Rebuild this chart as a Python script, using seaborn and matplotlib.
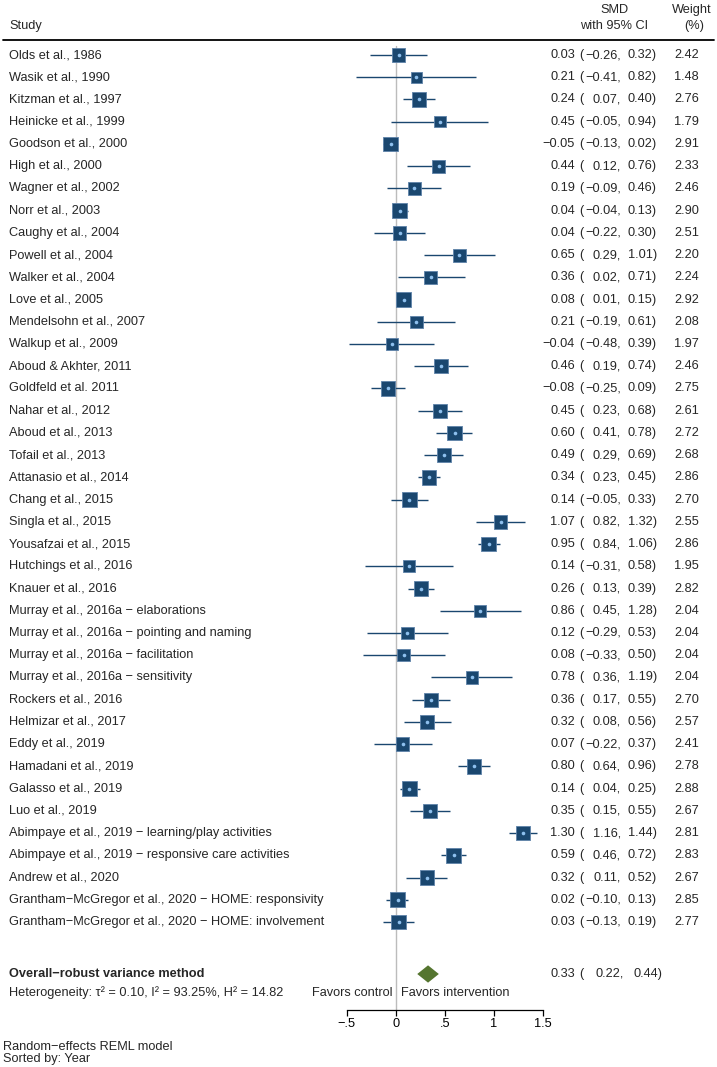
import numpy as np
import pandas as pd
import matplotlib
matplotlib.use("Agg")
import matplotlib.pyplot as plt
import matplotlib.transforms as mtransforms
from matplotlib.lines import Line2D
import seaborn as sns

# ---- data ----
studies = [
    "Olds et al., 1986", "Wasik et al., 1990", "Kitzman et al., 1997",
    "Heinicke et al., 1999", "Goodson et al., 2000", "High et al., 2000",
    "Wagner et al., 2002", "Norr et al., 2003", "Caughy et al., 2004",
    "Powell et al., 2004", "Walker et al., 2004", "Love et al., 2005",
    "Mendelsohn et al., 2007", "Walkup et al., 2009", "Aboud & Akhter, 2011",
    "Goldfeld et al. 2011", "Nahar et al., 2012", "Aboud et al., 2013",
    "Tofail et al., 2013", "Attanasio et al., 2014", "Chang et al., 2015",
    "Singla et al., 2015", "Yousafzai et al., 2015", "Hutchings et al., 2016",
    "Knauer et al., 2016", "Murray et al., 2016a \u2212 elaborations",
    "Murray et al., 2016a \u2212 pointing and naming",
    "Murray et al., 2016a \u2212 facilitation",
    "Murray et al., 2016a \u2212 sensitivity", "Rockers et al., 2016",
    "Helmizar et al., 2017", "Eddy et al., 2019", "Hamadani et al., 2019",
    "Galasso et al., 2019", "Luo et al., 2019",
    "Abimpaye et al., 2019 \u2212 learning/play activities",
    "Abimpaye et al., 2019 \u2212 responsive care activities",
    "Andrew et al., 2020",
    "Grantham\u2212McGregor et al., 2020 \u2212 HOME: responsivity",
    "Grantham\u2212McGregor et al., 2020 \u2212 HOME: involvement",
]
smd = [0.03, 0.21, 0.24, 0.45, -0.05, 0.44, 0.19, 0.04, 0.04, 0.65,
       0.36, 0.08, 0.21, -0.04, 0.46, -0.08, 0.45, 0.60, 0.49, 0.34,
       0.14, 1.07, 0.95, 0.14, 0.26, 0.86, 0.12, 0.08, 0.78, 0.36,
       0.32, 0.07, 0.80, 0.14, 0.35, 1.30, 0.59, 0.32, 0.02, 0.03]
ci_low = [-0.26, -0.41, 0.07, -0.05, -0.13, 0.12, -0.09, -0.04, -0.22, 0.29,
          0.02, 0.01, -0.19, -0.48, 0.19, -0.25, 0.23, 0.41, 0.29, 0.23,
          -0.05, 0.82, 0.84, -0.31, 0.13, 0.45, -0.29, -0.33, 0.36, 0.17,
          0.08, -0.22, 0.64, 0.04, 0.15, 1.16, 0.46, 0.11, -0.10, -0.13]
ci_high = [0.32, 0.82, 0.40, 0.94, 0.02, 0.76, 0.46, 0.13, 0.30, 1.01,
           0.71, 0.15, 0.61, 0.39, 0.74, 0.09, 0.68, 0.78, 0.69, 0.45,
           0.33, 1.32, 1.06, 0.58, 0.39, 1.28, 0.53, 0.50, 1.19, 0.55,
           0.56, 0.37, 0.96, 0.25, 0.55, 1.44, 0.72, 0.52, 0.13, 0.19]
weight = [2.42, 1.48, 2.76, 1.79, 2.91, 2.33, 2.46, 2.90, 2.51, 2.20,
          2.24, 2.92, 2.08, 1.97, 2.46, 2.75, 2.61, 2.72, 2.68, 2.86,
          2.70, 2.55, 2.86, 1.95, 2.82, 2.04, 2.04, 2.04, 2.04, 2.70,
          2.57, 2.41, 2.78, 2.88, 2.67, 2.81, 2.83, 2.67, 2.85, 2.77]

overall_label = "Overall\u2212robust variance method"
overall_smd, overall_low, overall_high = 0.33, 0.22, 0.44
heterogeneity = "Heterogeneity: \u03c4\u00b2 = 0.10, I\u00b2 = 93.25%, H\u00b2 = 14.82"
x_ticks = [-0.5, 0, 0.5, 1, 1.5]
x_ticklabels = ["\u2212.5", "0", ".5", "1", "1.5"]
footer = ["Random\u2212effects REML model", "Sorted by: Year"]

df = pd.DataFrame({"study": studies, "smd": smd, "lo": ci_low,
                   "hi": ci_high, "weight": weight})
df["row"] = np.arange(len(df))

# -----------------------------
# layout (pixels of the 717x1067 canvas)
# -----------------------------
sns.set_theme(style="white")
plt.rcParams["font.family"] = ["Liberation Sans", "DejaVu Sans"]

W, H = 717, 1067
navy = "#1a476f"
fs = 9.2

fig = plt.figure(figsize=(W / 100, H / 100), dpi=100)


def fx(px):
    return px / W


def fy(py):
    return 1 - py / H


row0, step = 55, 22.23
ax_top, ax_bot = 40, 1010
x_left, x_right = 346.7, 542.7
ax = fig.add_axes([fx(x_left), fy(ax_bot), fx(x_right) - fx(x_left), (ax_bot - ax_top) / H])
ax.set_xlim(-0.5, 1.5)
ax.set_ylim((ax_bot - row0) / step, (ax_top - row0) / step)
ax.patch.set_alpha(0)

overall_row = (974 - row0) / step
favors_row = (993 - row0) / step

# reference line at zero
ax.axvline(0, 0, (ax_bot - 46) / (ax_bot - ax_top), color="#bcbcbc", lw=1.0, zorder=1)

# confidence intervals
ax.hlines(df["row"], df["lo"], df["hi"], color=navy, lw=1.0, zorder=2)

# weighted squares
k = 39
sns.scatterplot(data=df, x="smd", y="row", size="weight",
                sizes=(k * df["weight"].min(), k * df["weight"].max()),
                marker="s", color=navy, edgecolor="#5f83aa", linewidth=0.6,
                legend=False, ax=ax, zorder=3, clip_on=False)
ax.plot(df["smd"], df["row"], "o", ms=2.6, color="#8ec0ee", mec="none", zorder=4)

# overall diamond
hh = 0.39
ax.fill([overall_low, overall_smd, overall_high, overall_smd],
        [overall_row, overall_row - hh, overall_row, overall_row + hh],
        color="#55752f", lw=0, zorder=3, clip_on=False)

# axis styling
for s in ["top", "left", "right"]:
    ax.spines[s].set_visible(False)
ax.spines["bottom"].set_bounds(-0.5, 1.5)
ax.spines["bottom"].set_color("black")
ax.spines["bottom"].set_linewidth(0.9)
ax.set_xticks(x_ticks)
ax.set_xticklabels(x_ticklabels)
ax.set_yticks([])
ax.tick_params(axis="x", bottom=True, length=4, width=0.9, direction="out",
               labelsize=fs, pad=1.5, colors="black")
ax.set_xlabel("")
ax.set_ylabel("")

# -----------------------------
# text columns
# -----------------------------
tr = mtransforms.blended_transform_factory(fig.transFigure, ax.transData)


def num(v):
    return f"{v:.2f}".replace("-", "\u2212")


for _, r in df.iterrows():
    y = r["row"]
    ax.text(fx(9), y, r["study"], transform=tr, ha="left", va="center", fontsize=fs)
    ax.text(fx(575), y, num(r["smd"]), transform=tr, ha="right", va="center", fontsize=fs)
    ax.text(fx(579), y, "(", transform=tr, ha="left", va="center", fontsize=fs)
    ax.text(fx(621), y, num(r["lo"]) + ",", transform=tr, ha="right", va="center", fontsize=fs)
    ax.text(fx(657), y, num(r["hi"]) + ")", transform=tr, ha="right", va="center", fontsize=fs)
    ax.text(fx(699), y, f"{r['weight']:.2f}", transform=tr, ha="right", va="center", fontsize=fs)

# overall row
ax.text(fx(9), overall_row, overall_label, transform=tr, ha="left", va="center",
        fontsize=fs, fontweight="bold")
ax.text(fx(575), overall_row, num(overall_smd), transform=tr, ha="right", va="center", fontsize=fs)
ax.text(fx(579), overall_row, "(", transform=tr, ha="left", va="center", fontsize=fs)
ax.text(fx(624), overall_row, num(overall_low) + ",", transform=tr, ha="right", va="center", fontsize=fs)
ax.text(fx(662), overall_row, num(overall_high) + ")", transform=tr, ha="right", va="center", fontsize=fs)

ax.text(fx(9), favors_row, heterogeneity, transform=tr, ha="left", va="center", fontsize=fs)
ax.text(fx(392), favors_row, "Favors control", transform=tr, ha="right", va="center", fontsize=fs)
ax.text(fx(401), favors_row, "Favors intervention", transform=tr, ha="left", va="center", fontsize=fs)

# header
fig.text(fx(9), fy(26), "Study", ha="left", va="center", fontsize=fs)
fig.text(fx(614), fy(10), "SMD", ha="center", va="center", fontsize=fs)
fig.text(fx(614), fy(26), "with 95% CI", ha="center", va="center", fontsize=fs)
fig.text(fx(692), fy(10), "Weight", ha="center", va="center", fontsize=fs)
fig.text(fx(694), fy(26), "(%)", ha="center", va="center", fontsize=fs)
fig.add_artist(Line2D([fx(3), fx(714)], [fy(ax_top), fy(ax_top)], color="black", lw=1.3))

# footer
fig.text(fx(3), fy(1047), footer[0], ha="left", va="center", fontsize=fs)
fig.text(fx(3), fy(1059), footer[1], ha="left", va="center", fontsize=fs)

fig.savefig("out.png", dpi=100)
